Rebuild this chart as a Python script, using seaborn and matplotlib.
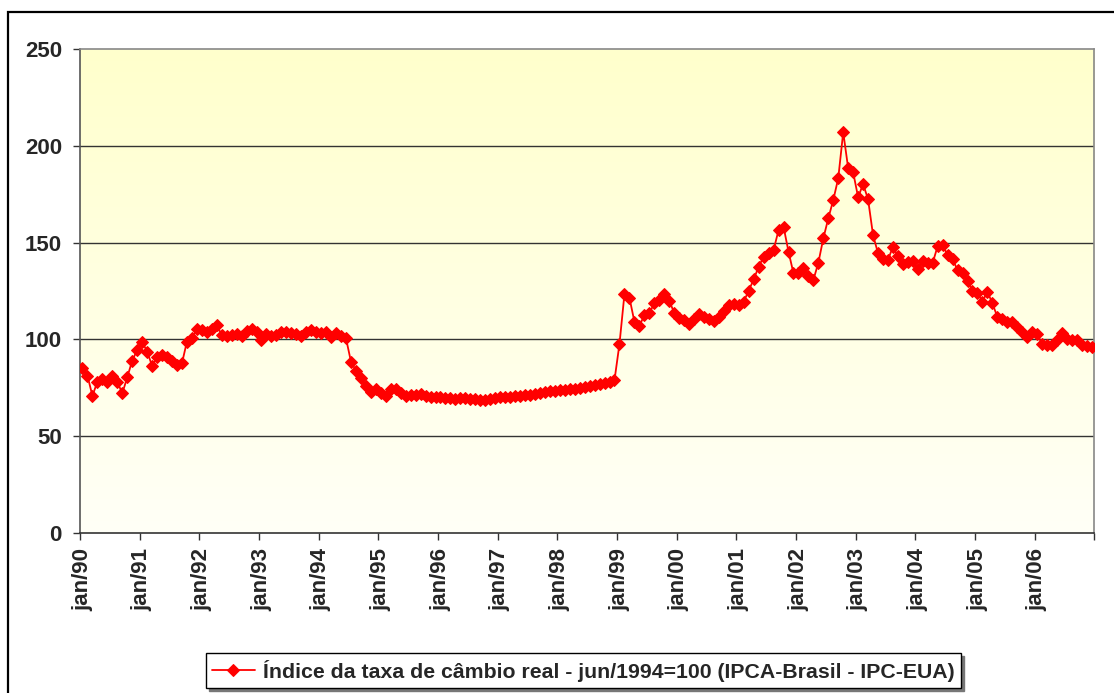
import numpy as np
import pandas as pd
import matplotlib
matplotlib.use("Agg")
import matplotlib.pyplot as plt
from matplotlib.patches import Rectangle
import seaborn as sns

# monthly index values, jan/1990 .. dec/2006
y1990 = [85.0, 81.3, 70.8, 78.2, 79.5, 77.8, 81.1, 78.2, 72.1, 80.4, 89.0, 94.5]
y1991 = [98.8, 93.7, 86.4, 90.7, 91.9, 90.7, 89.0, 86.8, 87.6, 98.8, 100.5, 105.2]
y1992 = [104.8, 104.0, 105.6, 107.4, 102.3, 102.0, 102.5, 103.0, 102.0, 104.5, 105.6, 104.0]
y1993 = [99.7, 102.8, 101.7, 102.3, 103.7, 103.7, 103.5, 102.6, 101.7, 103.7, 104.9, 103.7]
y1994 = [103.1, 103.7, 101.0, 103.1, 101.9, 100.5, 88.5, 83.9, 79.9, 75.9, 73.0, 74.2]
y1995 = [72.5, 70.8, 74.4, 74.6, 72.1, 70.8, 71.2, 71.2, 71.7, 71.0, 70.5, 70.5]
y1996 = [70.0, 69.8, 69.5, 69.3, 69.5, 69.6, 69.2, 69.0, 68.9, 68.7, 69.2, 69.5]
y1997 = [70.0, 70.2, 70.4, 71.0, 71.0, 71.2, 71.5, 71.8, 72.4, 72.9, 73.2, 73.5]
y1998 = [74.0, 74.1, 74.3, 74.6, 74.7, 75.3, 75.9, 76.5, 77.0, 77.6, 78.2, 79.0]
y1999 = [97.6, 123.3, 121.6, 109.2, 106.9, 112.6, 113.5, 118.6, 120.4, 123.4, 120.0, 113.8]
y2000 = [110.9, 109.8, 108.0, 110.4, 113.1, 111.7, 110.4, 109.5, 111.7, 114.8, 117.8, 118.1]
y2001 = [117.8, 119.5, 125.2, 131.0, 137.6, 142.7, 144.4, 146.2, 156.5, 158.2, 145.3, 134.1]
y2002 = [134.1, 136.7, 132.9, 130.7, 139.6, 152.2, 162.5, 172.0, 183.2, 207.0, 188.4, 186.3]
y2003 = [173.4, 180.3, 172.3, 153.9, 144.5, 141.3, 141.0, 147.9, 142.9, 138.9, 140.1, 140.7]
y2004 = [136.2, 140.7, 139.6, 139.6, 148.2, 148.7, 143.6, 141.4, 135.8, 134.5, 130.2, 125.2]
y2005 = [124.1, 119.5, 124.7, 118.6, 111.7, 110.5, 109.2, 109.2, 106.2, 104.0, 101.1, 104.0]
y2006 = [102.8, 97.6, 97.1, 97.1, 99.7, 103.5, 100.2, 99.7, 99.7, 97.1, 96.6, 96.3]

anos = list(range(1990, 2007))
valores = (y1990 + y1991 + y1992 + y1993 + y1994 + y1995 + y1996 + y1997 + y1998
           + y1999 + y2000 + y2001 + y2002 + y2003 + y2004 + y2005 + y2006)
rotulos_x = ["jan/%02d" % (a % 100) for a in anos]
serie = "Índice da taxa de câmbio real - jun/1994=100 (IPCA-Brasil - IPC-EUA)"

df = pd.DataFrame({"mes": np.arange(len(valores)), "indice": valores})

sns.set_style("white")
plt.rcParams["font.family"] = ["Liberation Sans", "DejaVu Sans"]
plt.rcParams["font.weight"] = "bold"

fig = plt.figure(figsize=(11.14, 6.93), dpi=100)
ax = fig.add_axes([80 / 1114, 1 - 533 / 693, (1094.3 - 80) / 1114, (533 - 49) / 693])

# outer chart border (left and top visible, rest cropped)
fig.patches.append(Rectangle((8 / 1114, -0.1), 1.2, 0.1 + (693 - 12) / 693,
                             transform=fig.transFigure, fill=False,
                             edgecolor="black", lw=1.6, zorder=0))

# plot area gradient: light yellow at the top fading to white
grad = np.linspace(0, 1, 256).reshape(-1, 1)
cmap = matplotlib.colors.LinearSegmentedColormap.from_list(
    "fundo", ["#FFFFF7", "#FFFFCC"])
ax.imshow(grad, aspect="auto", cmap=cmap, origin="lower",
          extent=[-0.5, len(valores) - 0.5, 0, 250], zorder=0)

for v in [50, 100, 150, 200]:
    ax.axhline(v, color="#333333", lw=1.0, zorder=1)

sns.lineplot(data=df, x="mes", y="indice", ax=ax, color="#FF0000", lw=1.3,
             marker="D", markersize=6.3, markeredgecolor="#FF0000",
             label=serie, legend=False, zorder=3)

ax.set_xlim(-0.5, len(valores) - 0.5)
ax.set_ylim(0, 250)
ax.set_yticks([0, 50, 100, 150, 200, 250])
ax.set_xticks(np.arange(len(anos)) * 12)
ax.set_xticklabels(rotulos_x, rotation=90)
ax.set_xticks(np.arange(len(anos) + 1) * 12 - 0.5, minor=True)
ax.tick_params(axis="x", which="major", length=0, pad=11, labelsize=16)
ax.tick_params(axis="x", which="minor", length=5, width=1, color="#333333",
               direction="out", bottom=True)
ax.tick_params(axis="y", length=5, width=1, color="#333333", direction="out",
               left=True, pad=8, labelsize=16)
for lab in ax.get_xticklabels() + ax.get_yticklabels():
    lab.set_fontweight("bold")
ax.set_xlabel("")
ax.set_ylabel("")

ax.spines["left"].set_color("#555555")
ax.spines["bottom"].set_color("#333333")
ax.spines["top"].set_color("#888888")
ax.spines["right"].set_color("#888888")
for s in ax.spines.values():
    s.set_linewidth(1.2)
    s.set_visible(True)

h, l = ax.get_legend_handles_labels()
leg = fig.legend(h, l, loc="center", bbox_to_anchor=(583.5 / 1114, 1 - 670.5 / 693),
                 frameon=True, fancybox=False, edgecolor="black", handlelength=2.0,
                 borderpad=0.3, handletextpad=0.4,
                 shadow={"ox": 2, "oy": -2, "color": "#777777", "alpha": 1},
                 prop={"weight": "bold", "size": 15.3})
leg.get_frame().set_linewidth(1.0)

fig.savefig("out.png", dpi=100)
